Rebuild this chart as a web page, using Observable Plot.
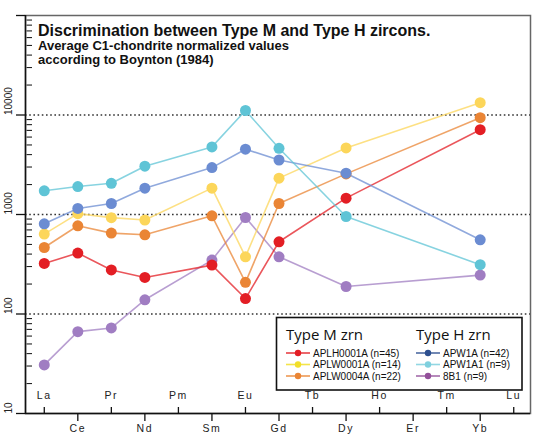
<!DOCTYPE html>
<html>
<head>
<meta charset="utf-8">
<script src="https://cdn.jsdelivr.net/npm/d3@7"></script>
<script src="https://cdn.jsdelivr.net/npm/@observablehq/plot@0.6"></script>
<style>
  html, body { margin: 0; padding: 0; background: #fff; }
  #chart { position: relative; width: 540px; height: 445px; }
  g[font-size="10.5"] text { letter-spacing: 1.6px; }
</style>
</head>
<body>
<div id="chart"></div>
<script>
// ---- data ----
const elements = ["La","Ce","Pr","Nd","Pm","Sm","Eu","Gd","Tb","Dy","Ho","Er","Tm","Yb","Lu"];
const measured = ["La","Ce","Pr","Nd","Sm","Eu","Gd","Dy","Yb"];
const seriesNames = ["APLH0001A (n=45)","APLW0001A (n=14)","APLW0004A (n=22)","APW1A (n=42)","APW1A1 (n=9)","8B1 (n=9)"];
const APLH0001A = [322, 410, 277, 233, 310, 143, 532, 1460, 7120];
const APLW0001A = [635, 1020, 930, 880, 1840, 376, 2320, 4670, 13300];
const APLW0004A = [466, 770, 650, 625, 970, 208, 1290, 2560, 9400];
const APW1A     = [806, 1150, 1290, 1840, 2960, 4530, 3530, 2600, 557];
const APW1A1    = [1730, 1910, 2060, 3060, 4780, 11100, 4630, 955, 313];
const S8B1      = [30.8, 66.5, 72.4, 139, 348, 933, 376, 189, 246];
const seriesValues = [APLH0001A, APLW0001A, APLW0004A, APW1A, APW1A1, S8B1];
const colors = ["#e31e24", "#fcd65a", "#ea8535", "#6b8cd2", "#5fc4d6", "#a07dc2"];
const legendColors = ["#e31e24", "#f2df2a", "#ea8535", "#2d4f8f", "#7fd0de", "#93509a"];
const yMajor = [10, 100, 1000, 10000, 100000];
const yLabels = [10, 100, 1000, 10000];
const gridLines = [100, 1000, 10000];
const title = "Discrimination between Type M and Type H zircons.";
const subtitle1 = "Average C1-chondrite normalized values";
const subtitle2 = "according to Boynton (1984)";
const groupTitles = ["Type M zrn", "Type H zrn"];

// ---- derived tables ----
const drawOrder = [5, 0, 1, 2, 3, 4];
const rows = [];
for (const s of drawOrder) {
  measured.forEach((el, j) => {
    rows.push({s: seriesNames[s], xi: elements.indexOf(el), v: seriesValues[s][j]});
  });
}
const yMinor = [];
for (let d = 10; d < 100000; d *= 10) for (let k = 2; k <= 9; k++) yMinor.push(d * k);
const upperIdx = elements.map((_, i) => i).filter(i => i % 2 === 0);
const lowerIdx = elements.map((_, i) => i).filter(i => i % 2 === 1);
const xDomain = [-0.56, 14.5];

const W = 540, H = 445, mL = 25, mR = 10, mT = 15, mB = 32;
const plotW = W - mL - mR, plotH = H - mT - mB;

const plot = Plot.plot({
  width: W, height: H,
  marginLeft: mL, marginRight: mR, marginTop: mT, marginBottom: mB,
  style: {fontFamily: "Liberation Sans, Arial, sans-serif", background: "#fff", overflow: "visible"},
  x: {type: "linear", domain: xDomain},
  y: {type: "log", domain: [10, 100000]},
  color: {domain: seriesNames, range: colors},
  marks: [
    Plot.ruleY(gridLines, {stroke: "#333", strokeWidth: 1.6, strokeDasharray: "1.6,2.6"}),
    Plot.frame({stroke: "#666", strokeWidth: 1.5}),
    Plot.ruleY([10], {stroke: "#111", strokeWidth: 1.5}),
    Plot.ruleX([xDomain[0]], {stroke: "#111", strokeWidth: 1.5}),
    Plot.axisY({ticks: yMajor, tickSize: 9, tickFormat: () => "", label: null, stroke: "#111", strokeWidth: 1.3}),
    Plot.tickY(yMinor, {y: d => d, insetLeft: 1.5, insetRight: plotW - 7, stroke: "#222", strokeWidth: 1.1}),
    Plot.text(yLabels, {y: d => d, text: d => String(d), frameAnchor: "left", dx: -17, dy: 0, rotate: -90, textAnchor: "start", fontSize: 10, fill: "#222"}),
    Plot.axisX({ticks: lowerIdx, tickSize: 8, tickFormat: () => "", label: null, stroke: "#111", strokeWidth: 1.3}),
    Plot.tickX(upperIdx, {x: d => d, insetTop: plotH - 6, stroke: "#111", strokeWidth: 1.3}),
    Plot.text(upperIdx, {x: d => d, text: i => elements[i], frameAnchor: "bottom", dy: -15, fontSize: 10.5, fill: "#222"}),
    Plot.text(lowerIdx, {x: d => d, text: i => elements[i], frameAnchor: "bottom", dy: 18, fontSize: 10.5, fill: "#222"}),
    Plot.line(rows, {x: "xi", y: "v", z: "s", stroke: "s", strokeWidth: 1.6, strokeOpacity: 0.75}),
    Plot.dot(rows, {x: "xi", y: "v", fill: "s", r: 5.5, stroke: "none"})
  ]
});
document.getElementById("chart").appendChild(plot);

// ---- title and legend, drawn inside the same SVG ----
const svg = d3.select(plot);
const tg = svg.append("g").attr("font-family", "Liberation Sans, Arial, sans-serif")
  .attr("fill", "#111").attr("font-weight", "bold").attr("text-anchor", "start");
tg.append("text").attr("x", 38).attr("y", 35.5).attr("font-size", 16).text(title);
tg.append("text").attr("x", 38).attr("y", 50).attr("font-size", 13).text(subtitle1);
tg.append("text").attr("x", 38).attr("y", 63.5).attr("font-size", 13).text(subtitle2);

const lg = svg.append("g").attr("text-anchor", "start");
lg.append("rect").attr("x", 276.5).attr("y", 317.5).attr("width", 245.5).attr("height", 72.5)
  .attr("fill", "#fff").attr("stroke", "#111").attr("stroke-width", 1.6);
const colX = [286, 416];
groupTitles.forEach((t, c) => {
  lg.append("text").attr("x", colX[c]).attr("y", 339.5).attr("font-size", 15)
    .attr("font-family", "Open Sans, sans-serif").attr("fill", "#111").text(t);
});
const rowY = [353, 364.5, 376];
seriesNames.forEach((name, i) => {
  const c = i < 3 ? 0 : 1, r = i % 3;
  const x0 = colX[c], y0 = rowY[r];
  lg.append("line").attr("x1", x0).attr("x2", x0 + 24).attr("y1", y0).attr("y2", y0)
    .attr("stroke", legendColors[i]).attr("stroke-width", 1.6).attr("stroke-opacity", 0.85);
  lg.append("circle").attr("cx", x0 + 12).attr("cy", y0).attr("r", 3.2).attr("fill", legendColors[i]);
  lg.append("text").attr("x", x0 + 27).attr("y", y0 + 3.6).attr("font-size", 10)
    .attr("font-family", "Liberation Sans, Arial, sans-serif").attr("fill", "#111").text(name);
});
</script>
</body>
</html>
